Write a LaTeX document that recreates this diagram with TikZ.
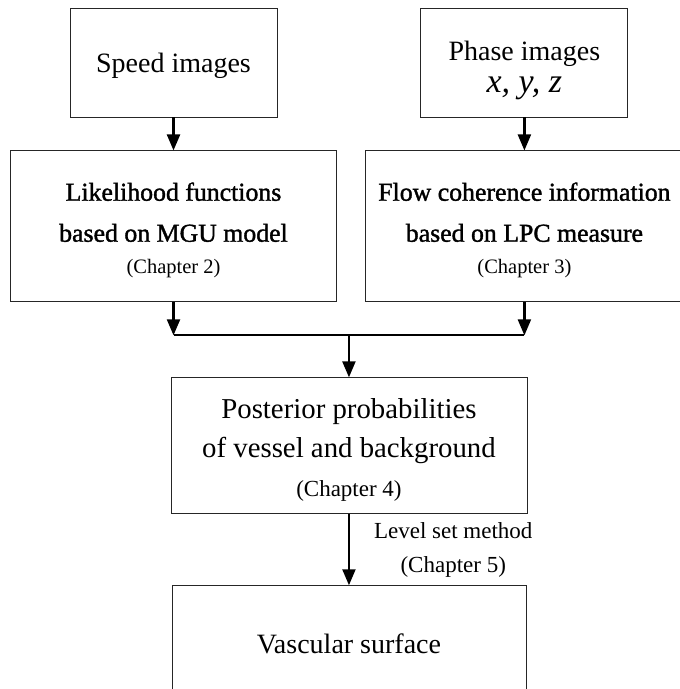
\documentclass[tikz,border=0pt]{standalone}
\usepackage{fontspec}
\setmainfont{Liberation Serif}
\newfontfamily\semibold{Liberation Serif}[FakeBold=1.4]
\usetikzlibrary{positioning,arrows.meta,calc}

\tikzset{
  box/.style={draw=black!85, line width=0.45pt, align=center, inner sep=0pt},
  link/.style={-{Triangle[width=6.5pt,length=8pt]}, line width=1.1pt},
  big/.style={font=\fontsize{14}{16}\selectfont},
  mid/.style={font=\semibold\fontsize{12.9}{15}\selectfont},
}
\newcommand{\chap}[1]{{\normalfont\fontsize{10.25}{12}\selectfont (Chapter #1)}}

\begin{document}
\begin{tikzpicture}[node distance=16.5pt]
  \useasboundingbox (0,0) rectangle (339.5pt,-344.5pt);
  % inputs
  \node[box, big, minimum width=103.5pt, minimum height=54.5pt] (speed) at (86.75pt,-31.25pt) {\rule{0pt}{13pt}Speed images};
  \node[box, big, minimum width=103.5pt, minimum height=54.5pt] (phase) [right=71.5pt of speed] {\rule{0pt}{18pt}Phase images\\[0pt]{\fontsize{17}{17}\selectfont\itshape x, y, z}};
  % features
  \node[box, mid, minimum width=163pt, minimum height=75.5pt] (lik) [below=of speed] {\rule{0pt}{13pt}Likelihood functions\\[5.5pt]based on MGU model\\[1pt]\chap{2}};
  \node[box, mid, minimum width=159pt, minimum height=75.5pt] (coherence) [below=of phase] {\rule{0pt}{13pt}Flow coherence information\\[5.5pt]based on LPC measure\\[1pt]\chap{3}};
  \draw[link] (speed) -- (lik);
  \draw[link] (phase) -- (coherence);
  % merge
  \coordinate[below=of lik.south] (joinl);
  \coordinate (joinr) at (joinl -| coherence.south);
  \coordinate (join) at ($(joinl)!0.5!(joinr)$);
  \draw[link] (lik) -- (joinl);
  \draw[link] (coherence) -- (joinr);
  \draw[line width=1.1pt] (joinl) -- (joinr);
  % result
  \node[box, big, font=\fontsize{14.4}{19.5}\selectfont, minimum width=178pt, minimum height=68pt] (post) [below=21pt of join] {\rule{0pt}{14pt}Posterior probabilities\\of vessel and background\\{\fontsize{11.5}{13}\selectfont (Chapter 4)}};
  \draw[link] (join) -- (post);
  \node[box, big, minimum width=177pt, minimum height=58pt] (vasc) [below=35.5pt of post] {Vascular surface};
  \draw[link] (post) -- (vasc) node[midway, right=12pt, align=center, inner sep=0pt, font=\fontsize{11.5}{17}\selectfont] (lsm) {Level set method\\(Chapter 5)};
\end{tikzpicture}
\end{document}
